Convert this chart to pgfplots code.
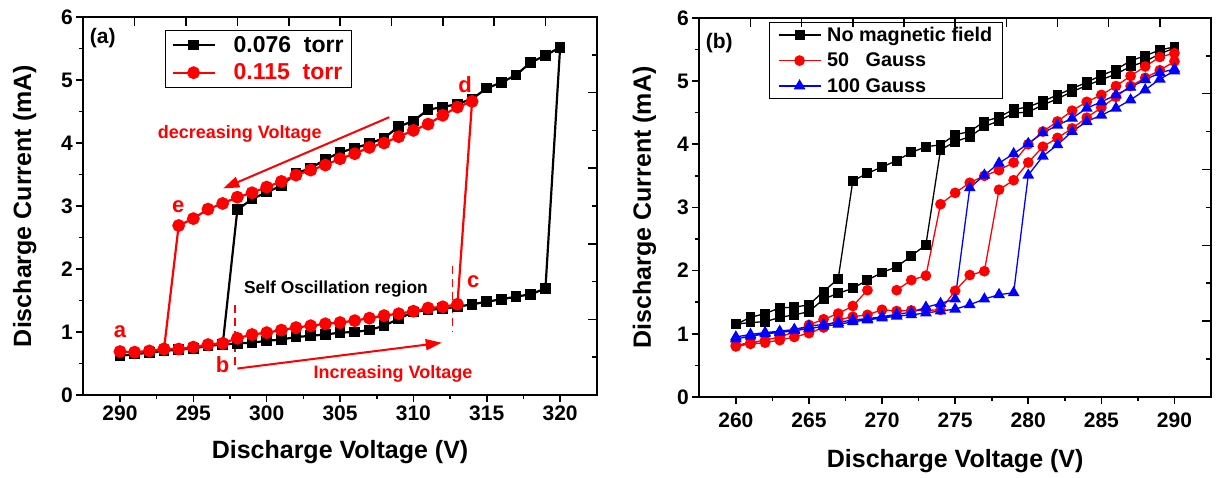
\documentclass[border=0pt]{standalone}
\usepackage{pgfplots}
\pgfplotsset{compat=1.18}
\usepackage{fontspec}
\setmainfont{Liberation Sans}
\usetikzlibrary{arrows.meta}
\definecolor{myred}{RGB}{255,0,0}
\definecolor{myblue}{RGB}{0,0,255}
\begin{document}
\begin{tikzpicture}
\useasboundingbox (0pt,0pt) rectangle (1216pt,477pt);
\pgfplotsset{
  base/.style={
    scale only axis,
    axis line style={line width=2pt},
    tick style={line width=1.6pt, black},
    tick align=outside,
    xtick pos=left, ytick pos=left,
    major tick length=7pt, minor tick length=4pt,
    ymin=0, ymax=6, ytick={0,1,...,6}, minor y tick num=1,
    minor x tick num=1,
    tick label style={font=\fontsize{21}{21}\selectfont\bfseries},
    /pgf/number format/assume math mode=true,
    label style={font=\fontsize{25}{25}\selectfont\bfseries},
    legend cell align=left,
    legend image code/.code={\draw[mark repeat=2,mark phase=2,##1] plot coordinates {(0pt,0pt) (21pt,0pt) (42pt,0pt)};},
  },
  fake/.style={
    scale only axis,
    xmin=0, xmax=10, ymin=0, ymax=5,
    axis line style={draw=none},
    xtick={1,...,9}, ytick={1,2,3,4}, minor ytick={0.5,1.5,2.5,3.5,4.5},
    xtick pos=right, ytick pos=right, tick align=inside,
    xticklabels={}, yticklabels={},
    major tick length=9pt, minor tick length=5pt,
    tick style={line width=1.6pt, black},
  },
}
% ---------------- panel (a) ----------------
\begin{axis}[base,
  at={(83.3pt,82pt)}, anchor=south west, width=513.5pt, height=378pt,
  xmin=287.5, xmax=322.5, xtick={290,295,...,320},
  xlabel={Discharge Voltage (V)}, ylabel={Discharge Current (mA)},
  xlabel style={at={(axis description cs:0.5,-0.151)}, anchor=center},
  ylabel style={at={(axis description cs:-0.114,0.5)}, anchor=center},
  legend style={at={(axis description cs:0.159,0.966)}, anchor=north west,
    draw=black, line width=1pt, font=\fontsize{23}{23}\selectfont\bfseries,
    inner xsep=6pt, inner ysep=4pt, row sep=6pt,
    /tikz/every odd column/.append style={column sep=16pt}},
]
\addplot[black, line width=2.2pt, mark=square*, mark size=4.2pt] coordinates {
(290,0.62) (291,0.65) (292,0.67) (293,0.70) (294,0.72) (295,0.74) (296,0.78) (297,0.80)
(298,0.82) (299,0.83) (300,0.86) (301,0.88) (302,0.92) (303,0.94) (304,0.96) (305,0.99)
(306,1.00) (307,1.03) (308,1.10) (309,1.21) (310,1.32) (311,1.35) (312,1.37) (313,1.40)
(314,1.44) (315,1.48) (316,1.52) (317,1.56) (318,1.60) (319,1.69) (320,5.52)
(319,5.39) (318,5.28) (317,5.08) (316,4.96) (315,4.87) (314,4.70) (313,4.62) (312,4.57)
(311,4.53) (310,4.35) (309,4.26) (308,4.08) (307,3.99) (306,3.92) (305,3.85) (304,3.74)
(303,3.60) (302,3.52) (301,3.32) (300,3.22) (299,3.11) (298,2.94) (297,0.80)
};
\addlegendentry{0.076\ \ torr}
\addplot[myred, line width=2.2pt, mark=*, mark size=5.3pt] coordinates {
(290,0.69) (291,0.68) (292,0.70) (293,0.73) (294,0.73) (295,0.76) (296,0.80) (297,0.82)
(298,0.90) (299,0.96) (300,0.99) (301,1.03) (302,1.07) (303,1.10) (304,1.13) (305,1.15)
(306,1.18) (307,1.22) (308,1.26) (309,1.29) (310,1.33) (311,1.38) (312,1.40) (313,1.44)
(314,4.66)
(313,4.57) (312,4.44) (311,4.30) (310,4.20) (309,4.10) (308,4.00) (307,3.93) (306,3.83)
(305,3.75) (304,3.65) (303,3.57) (302,3.49) (301,3.39) (300,3.30) (299,3.21) (298,3.14)
(297,3.04) (296,2.95) (295,2.80) (294,2.69) (293,0.73)
};
\addlegendentry{\textcolor{myred}{0.115\ \ torr}}
\node[font=\fontsize{21}{21}\selectfont\bfseries] at (axis cs:288.82,5.67) {(a)};
\node[text=myred, font=\fontsize{18}{18}\selectfont\bfseries] at (axis cs:298.16,4.14) {decreasing Voltage};
\draw[myred, line width=2pt, -{Triangle[length=16pt,width=11pt]}] (axis cs:308.36,4.41) -- (axis cs:297.04,3.28);
\node[text=myred, font=\fontsize{22}{22}\selectfont\bfseries] at (axis cs:293.97,2.99) {e};
\node[text=myred, font=\fontsize{22}{22}\selectfont\bfseries] at (axis cs:313.52,4.92) {d};
\node[text=myred, font=\fontsize{22}{22}\selectfont\bfseries] at (axis cs:290,1.00) {a};
\node[text=myred, font=\fontsize{22}{22}\selectfont\bfseries] at (axis cs:297.0,0.48) {b};
\node[text=myred, font=\fontsize{22}{22}\selectfont\bfseries] at (axis cs:314.08,1.80) {c};
\node[font=\fontsize{17.4}{17.4}\selectfont\bfseries] at (axis cs:304.72,1.68) {Self Oscillation region};
\draw[myred, line width=1.5pt, dash pattern=on 8pt off 5pt] (axis cs:297.85,1.43) -- (axis cs:297.85,0.43);
\draw[myred, line width=1.5pt, dash pattern=on 8pt off 5pt] (axis cs:312.67,2.04) -- (axis cs:312.67,1.00);
\node[text=myred, font=\fontsize{18}{18}\selectfont\bfseries] at (axis cs:308.61,0.33) {Increasing Voltage};
\draw[myred, line width=2pt, -{Triangle[length=16pt,width=11pt]}] (axis cs:298.0,0.42) -- (axis cs:311.93,0.83);
\end{axis}
\begin{axis}[fake, at={(83.3pt,82pt)}, anchor=south west, width=513.5pt, height=378pt]
\end{axis}
% ---------------- panel (b) ----------------
\begin{axis}[base,
  at={(699.3pt,80pt)}, anchor=south west, width=511.7pt, height=379.2pt,
  xmin=257.5, xmax=292.5, xtick={260,265,...,290},
  xlabel={Discharge Voltage (V)}, ylabel={Discharge Current (mA)},
  xlabel style={at={(axis description cs:0.5,-0.169)}, anchor=center},
  ylabel style={at={(axis description cs:-0.107,0.5)}, anchor=center},
  xticklabel style={yshift=-5pt},
  unbounded coords=jump,
  legend style={at={(axis description cs:0.137,0.99)}, anchor=north west,
    draw=black, line width=1pt, font=\fontsize{19.8}{19.8}\selectfont\bfseries,
    inner xsep=8pt, inner ysep=3pt, row sep=6pt,
    /tikz/every odd column/.append style={column sep=4pt}},
]
\addplot[black, line width=1.3pt, mark=square*, mark size=4.3pt] coordinates {
(260,1.15) (261,1.18) (262,1.19) (263,1.26) (264,1.30) (265,1.35) (266,1.55) (267,1.64)
(268,1.72) (269,1.85) (270,1.97) (271,2.06) (272,2.23) (273,2.41) (274,3.91) (275,4.04)
(276,4.12) (277,4.28) (278,4.37) (279,4.49) (280,4.51) (281,4.62) (282,4.72) (283,4.83)
(284,4.93) (285,5.02) (286,5.11) (287,5.23) (288,5.31) (289,5.43) (290,5.52)
(290,5.54) (289,5.49) (288,5.40) (287,5.32) (286,5.18) (285,5.09) (284,4.98) (283,4.88)
(282,4.78) (281,4.68) (280,4.59) (279,4.55) (278,4.43) (277,4.36) (276,4.20) (275,4.15)
(274,3.99) (273,3.96) (272,3.87) (271,3.74) (270,3.64) (269,3.54) (268,3.42) (267,1.87)
(266,1.67) (265,1.46) (264,1.42) (263,1.41) (262,1.32) (261,1.26) (260,1.15)
};
\addlegendentry{No magnetic field}
\addplot[myred, line width=1.3pt, mark=*, mark size=4.7pt] coordinates {
(260,0.80) (261,0.84) (262,0.86) (263,0.90) (264,0.95) (265,1.01) (266,1.10) (267,1.22)
(268,1.27) (269,1.30) (270,1.38) (271,1.36) (272,1.37) (273,1.37) (274,1.38) (275,1.68)
(276,1.93) (277,1.99) (278,3.28) (279,3.43) (280,3.71) (281,3.96) (282,4.10) (283,4.25)
(284,4.42) (285,4.58) (286,4.75) (287,4.92) (288,5.05) (289,5.17) (290,5.31)
(290,5.44) (289,5.38) (288,5.23) (287,5.08) (286,4.92) (285,4.78) (284,4.67) (283,4.53)
(282,4.36) (281,4.20) (280,4.00) (279,3.71) (278,3.59) (277,3.50) (276,3.39) (275,3.23)
(274,3.05) (273,1.92) (272,1.85) (271,1.69) (270,nan) (269,1.69) (268,1.44) (267,1.32)
(266,1.23) (265,1.14) (264,1.03) (263,0.95) (262,0.90) (261,0.86) (260,0.82)
};
\addlegendentry{50\ \ \ Gauss}
\addplot[myblue, line width=1.3pt, mark=triangle*, mark size=5.5pt] coordinates {
(260,0.92) (261,0.96) (262,1.00) (263,1.02) (264,1.05) (265,1.08) (266,1.12) (267,1.15)
(268,1.19) (269,1.22) (270,1.25) (271,1.28) (272,1.30) (273,1.33) (274,1.36) (275,1.39)
(276,1.46) (277,1.55) (278,1.62) (279,1.65) (280,3.51) (281,3.81) (282,3.99) (283,4.20)
(284,4.36) (285,4.46) (286,4.57) (287,4.70) (288,4.86) (289,5.03) (290,5.16)
(290,5.19) (289,5.13) (288,5.02) (287,4.90) (286,4.78) (285,4.67) (284,4.57) (283,4.41)
(282,4.30) (281,4.18) (280,4.01) (279,3.85) (278,3.70) (277,3.51) (276,3.31) (275,1.55)
(274,1.48) (273,1.42) (272,1.34) (271,1.31) (270,1.27) (269,1.24) (268,1.22) (267,1.18)
(266,1.15) (265,1.12) (264,1.07) (263,1.04) (262,1.02) (261,0.99) (260,0.95)
};
\addlegendentry{100 Gauss}
\node[font=\fontsize{21}{21}\selectfont\bfseries] at (axis cs:258.86,5.60) {(b)};
\end{axis}
\begin{axis}[fake, at={(699.3pt,80pt)}, anchor=south west, width=511.7pt, height=379.2pt]
\end{axis}
\end{tikzpicture}
\end{document}
